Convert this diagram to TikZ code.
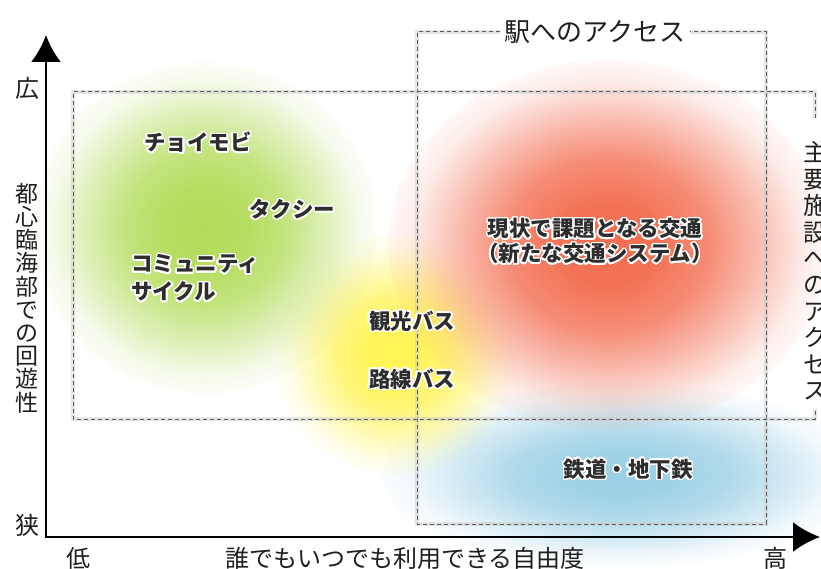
\documentclass[tikz,border=0pt]{standalone}
\usepackage{fontspec}
\newfontfamily\jp{Noto Sans CJK JP}
\usepackage{contour}
\contourlength{1.5pt}
\contournumber{24}
\usetikzlibrary{arrows.meta,fadings}
\definecolor{gblob}{RGB}{178,220,88}
\definecolor{yblob}{RGB}{255,244,84}
\definecolor{rblob}{RGB}{243,108,78}
\definecolor{bblob}{RGB}{155,208,230}
\definecolor{tagtext}{RGB}{45,45,45}
\pgfdeclareradialshading{blobshade}{\pgfpointorigin}{%
  color(0bp)=(pgftransparent!0); color(5.7bp)=(pgftransparent!5);
  color(11.4bp)=(pgftransparent!22); color(17bp)=(pgftransparent!55);
  color(22.2bp)=(pgftransparent!88); color(26.2bp)=(pgftransparent!100);
  color(50bp)=(pgftransparent!100)}
\pgfdeclarefading{blobfade}{\pgfuseshading{blobshade}}
\newcommand\myblob[5]{%
  \fill[#5, path fading=blobfade] (#1,#2) ellipse [x radius=#3pt, y radius=#4pt];}
\tikzset{
  dashframe/.style={preaction={draw=gray!45, line width=3.5pt, opacity=.45, solid},
    draw=gray!70!black, line width=1pt, dash pattern=on 4pt off 3pt},
  axisline/.style={line width=2.6pt, {Latex[length=27pt,width=30pt]}-{Latex[length=27pt,width=30pt]}},
  axlbl/.style={font=\jp\fontsize{24}{24}\selectfont, text=black!88, inner sep=0pt},
  vlbl/.style={font=\jp\fontsize{23}{23.2}\selectfont, text=black!88, align=center, inner sep=0pt},
  vlblr/.style={font=\jp\fontsize{24}{26.4}\selectfont, text=black!88, align=center, inner sep=0pt},
  tag/.style={font=\jp\bfseries\fontsize{21.5}{25}\selectfont, text=tagtext, inner sep=0pt},
}
\begin{document}
\begin{tikzpicture}[x=1pt, y=-1pt]
\useasboundingbox (0,0) rectangle (821,569);
\fill[white] (0,0) rectangle (821,569);
% colour areas
\myblob{622}{475}{240}{92}{bblob}
\myblob{395}{355}{120}{120}{yblob}
\myblob{205}{228}{172}{166}{gblob}
\myblob{608}{245}{220}{185}{rblob}
% frames
\node[font=\jp\fontsize{26}{26}\selectfont, text=black!88, inner sep=4pt] (eki) at (595,32) {駅へのアクセス};
\draw[dashframe] (eki.west) -- (417,32) -- (417,524) -- (766,524) -- (766,32) -- (eki.east);
\node[vlblr] (shuyo) at (815,271) {主\\要\\施\\設\\へ\\の\\ア\\ク\\セ\\ス};
\coordinate (s1) at (815,118);
\coordinate (s2) at (815,409);
\draw[dashframe] (s1) -- (815,92) -- (73,92) -- (73,419) -- (815,419) -- (s2);
% axes
\coordinate (O) at (46,537);
\coordinate (ytip) at (46,35);
\coordinate (xtip) at (820,537);
\draw[axisline] (ytip) -- (O) -- (xtip);
\node[axlbl] (hi) at (28,88) {広};
\node[axlbl] (narrow) at (28,525) {狭};
\node[axlbl] (xlo) at (78,558) {低};
\node[axlbl] (xhi) at (775,558) {高};
\node[axlbl] (xt) at (405,558) {誰でもいつでも利用できる自由度};
\node[vlbl] (yt) at (27,298) {都\\心\\臨\\海\\部\\で\\の\\回\\遊\\性};
% labels
\node[tag] (choi) at (198,143) {\contour{white}{チョイモビ}};
\node[tag] (taxi) at (292,210) {\contour{white}{タクシー}};
\node[tag, anchor=west, align=left, font=\jp\bfseries\fontsize{21.5}{28}\selectfont] (cyc) at (131,279) {\contour{white}{コミュニティ}\\\contour{white}{サイクル}};
\node[tag, anchor=west] (kanko) at (369,322) {\contour{white}{観光バス}};
\node[tag, anchor=west] (rosen) at (369,380) {\contour{white}{路線バス}};
\node[tag, align=center] (kadai) at (595,242) {\contour{white}{現状で課題となる交通}\\\contour{white}{（新たな交通システム）}};
\node[tag] (tetsu) at (628,470) {\contour{white}{鉄道・地下鉄}};
\end{tikzpicture}
\end{document}
